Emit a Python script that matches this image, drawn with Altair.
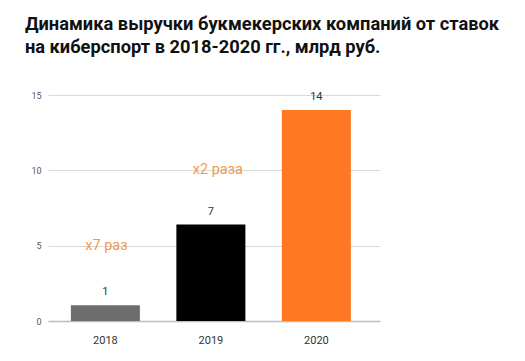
import altair as alt
import pandas as pd

years = ["2018", "2019", "2020"]
values = [1.05, 6.4, 14.0]
labels = ["1", "7", "14"]
colors = ["#6d6d6d", "#000000", "#ff7722"]

notes = ["x7 раз", "x2 раза"]
note_x = ["2018", "2019"]
note_y = [5, 10]

title_lines = ["Динамика выручки букмекерских компаний от ставок",
               "на киберспорт в 2018-2020 гг., млрд руб."]

df = pd.DataFrame({"year": years, "value": values, "label": labels, "color": colors})
notes_df = pd.DataFrame({"year": note_x, "y": note_y, "note": notes})

xscale = alt.Scale(domain=years, paddingInner=0.346, paddingOuter=0.2465, align=0.44)
yscale = alt.Scale(domain=[0, 15])

x = alt.X("year:N", scale=xscale, sort=years,
          axis=alt.Axis(title=None, labelAngle=0, ticks=False, domain=True,
                        domainColor="#bdbdbd", domainWidth=1.5,
                        labelFontSize=11, labelColor="#333333", labelPadding=13,
                        labelFont="Roboto"))
y = alt.Y("value:Q", scale=yscale,
          axis=alt.Axis(title=None, values=[0, 5, 10, 15], ticks=False, domain=False,
                        gridColor="#d9d9d9", gridWidth=1,
                        labelFontSize=9, labelColor="#555555", labelPadding=7,
                        labelFont="Roboto"))

bars = alt.Chart(df).mark_bar().encode(
    x=x, y=y, color=alt.Color("color:N", scale=None)
)

text = alt.Chart(df).mark_text(dy=-13, fontSize=11, color="#333333", font="Roboto",
                               baseline="middle").encode(
    x=alt.X("year:N", scale=xscale, sort=years),
    y=alt.Y("value:Q", scale=yscale),
    text="label:N"
)

def note_layer(idx, dx):
    return alt.Chart(notes_df.iloc[[idx]]).mark_text(
        fontSize=14.5, color="#f39a4a", font="Roboto", baseline="middle", dx=dx
    ).encode(
        x=alt.X("year:N", scale=xscale, sort=years),
        y=alt.Y("y:Q", scale=yscale),
        text="note:N"
    )

chart = alt.layer(bars, text, note_layer(0, 1), note_layer(1, 7)).properties(
    width=332, height=226,
    title=alt.TitleParams(title_lines, anchor="start", font="Roboto", fontSize=18.3,
                          fontWeight="bold", color="#111111", dx=-6, offset=34,
                          lineHeight=23),
    autosize=alt.AutoSizeParams(type="none"),
    padding={"left": 40, "top": 87, "right": 137, "bottom": 32}
).configure_view(stroke=None)

chart.save("out.html", embed_options={"renderer": "svg", "actions": False})
